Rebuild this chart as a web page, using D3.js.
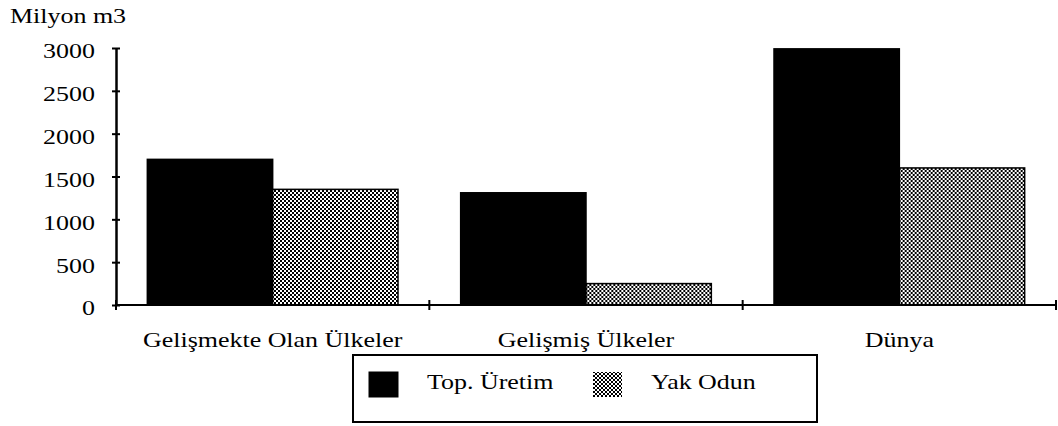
<!DOCTYPE html>
<html>
<head>
<meta charset="utf-8">
<script src="https://cdn.jsdelivr.net/npm/d3@7"></script>
<style>
  body { margin: 0; background: #fff; }
  svg text { font-family: "Liberation Serif", "Times New Roman", serif; fill: #000; }
</style>
</head>
<body>
<div id="chart"></div>
<script>
const categories = ["Gelişmekte Olan Ülkeler", "Gelişmiş Ülkeler", "Dünya"];
const seriesNames = ["Top. Üretim", "Yak Odun"];
const topUretim = [1700, 1310, 2990];
const yakOdun = [1350, 250, 1600];
const yTicks = [0, 500, 1000, 1500, 2000, 2500, 3000];

const margin = {top: 48, right: 2, bottom: 121, left: 116},
    width = 1058 - margin.left - margin.right,
    height = 426 - margin.top - margin.bottom;

// the scanned type is wider than Liberation Serif
const stretch = 1.18;
const fontSize = "22px";

const svg = d3.select("#chart").append("svg")
    .attr("width", 1058)
    .attr("height", 426);

const defs = svg.append("defs");
const pat = defs.append("pattern")
    .attr("id", "dots")
    .attr("patternUnits", "userSpaceOnUse")
    .attr("width", 4).attr("height", 4);
pat.append("rect").attr("width", 4).attr("height", 4).attr("fill", "#fff");
pat.append("rect").attr("width", 2).attr("height", 2).attr("fill", "#000");
pat.append("rect").attr("x", 2).attr("y", 2).attr("width", 2).attr("height", 2).attr("fill", "#000");

const g = svg.append("g")
    .attr("transform", `translate(${margin.left}, ${margin.top})`);

const data = categories.map((c, i) => ({cat: c, values: [topUretim[i], yakOdun[i]]}));

const x = d3.scaleBand().domain(categories).range([0, width]);
const xSub = d3.scaleBand().domain(seriesNames).range([0, x.bandwidth()]).paddingOuter(0.25);
const y = d3.scaleLinear().domain([0, 3000]).range([height, 0]);

const fills = ["#000", "url(#dots)"];

// bars
const groups = g.selectAll(".grp").data(data).join("g")
    .attr("transform", d => `translate(${x(d.cat)}, 0)`);
groups.selectAll("rect")
    .data(d => d.values.map((v, j) => ({name: seriesNames[j], v: v, j: j})))
    .join("rect")
    .attr("x", d => xSub(d.name))
    .attr("y", d => y(d.v))
    .attr("width", xSub.bandwidth())
    .attr("height", d => height - y(d.v))
    .attr("fill", d => fills[d.j])
    .attr("stroke", "#000")
    .attr("stroke-width", 1.5);

// y axis
const yAxis = d3.axisLeft(y).tickValues(yTicks).tickFormat(d3.format("d"))
    .tickSizeInner(4).tickSizeOuter(0).tickPadding(0);
const ya = g.append("g").call(yAxis).attr("font-family", null);
ya.select(".domain").attr("stroke-width", 2.5);
ya.selectAll(".tick line").attr("x1", -4).attr("x2", 4).attr("stroke-width", 2);
ya.selectAll(".tick text")
    .attr("x", null).attr("dy", "0.45em")
    .attr("transform", `translate(-21, 0) scale(${stretch}, 1)`)
    .style("font-size", fontSize);

// x axis
const xa = g.append("g").attr("transform", `translate(0, ${height})`);
xa.append("line").attr("x1", 0).attr("x2", width).attr("stroke", "#000").attr("stroke-width", 2);
const bounds = categories.map(c => x(c)).concat([width]);
xa.selectAll(".xt").data(bounds).join("line")
    .attr("x1", d => d).attr("x2", d => d)
    .attr("y1", -5).attr("y2", 5)
    .attr("stroke", "#000").attr("stroke-width", 2);
xa.selectAll(".xl").data(categories).join("text")
    .attr("transform", d => `translate(${x(d) + x.bandwidth() / 2}, 42) scale(${stretch}, 1)`)
    .attr("text-anchor", "middle")
    .style("font-size", fontSize)
    .text(d => d);

// y title
svg.append("text")
    .attr("transform", `translate(10, 23) scale(${stretch}, 1)`)
    .style("font-size", fontSize)
    .text("Milyon m3");

// legend
const lg = svg.append("g").attr("transform", "translate(353, 355)");
lg.append("rect").attr("width", 464).attr("height", 67)
    .attr("fill", "#fff").attr("stroke", "#000").attr("stroke-width", 2);
const legX = [16, 240];
seriesNames.forEach((s, j) => {
    lg.append("rect")
        .attr("x", legX[j]).attr("y", 17)
        .attr("width", 29).attr("height", 25)
        .attr("fill", fills[j]).attr("stroke", j ? "none" : "#000");
    lg.append("text")
        .attr("transform", `translate(${legX[j] + 58}, 34) scale(${stretch}, 1)`)
        .style("font-size", fontSize)
        .text(s);
});
</script>
</body>
</html>
